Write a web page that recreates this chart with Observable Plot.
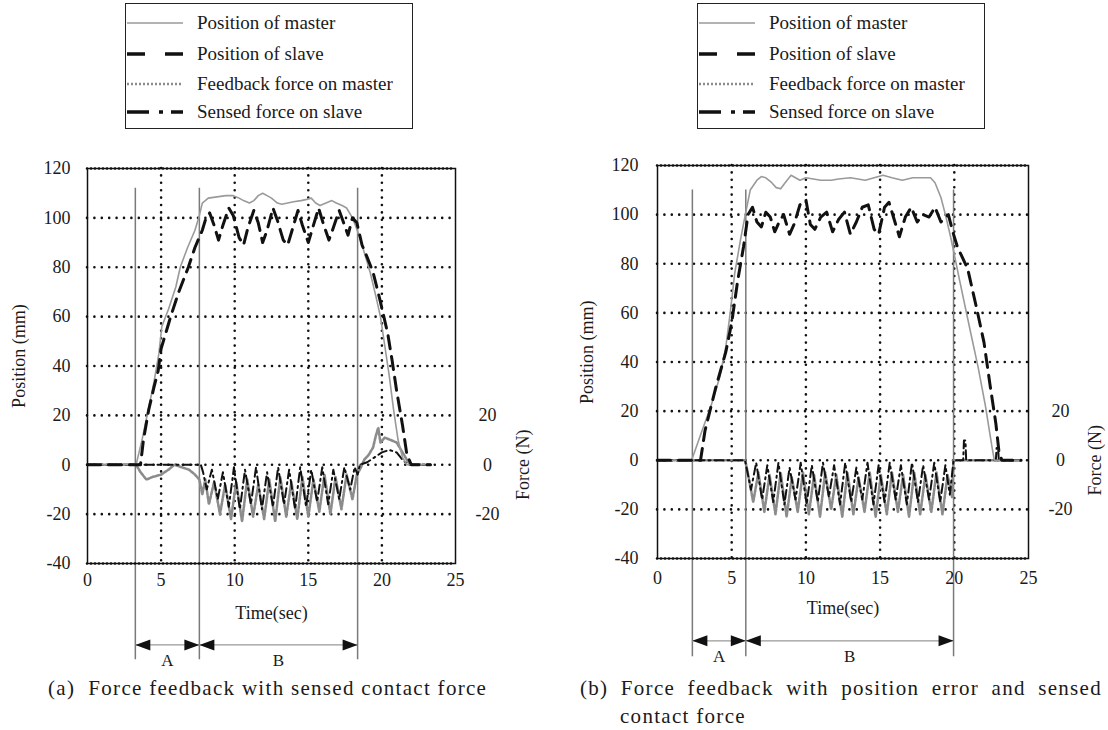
<!DOCTYPE html>
<html><head><meta charset="utf-8">
<script src="https://cdn.jsdelivr.net/npm/d3@7"></script>
<script src="https://cdn.jsdelivr.net/npm/@observablehq/plot@0.6"></script>
<style>
body{margin:0;background:#fff;width:1108px;height:730px;position:relative;overflow:hidden;font-family:"Liberation Serif","Times New Roman",Times,"DejaVu Serif",serif;color:#1a1a1a}
.legend{position:absolute;border:1.6px solid #222;background:#fff;box-sizing:border-box}
.row{position:absolute;left:0;height:26px;font-size:19px;white-space:nowrap}
.row svg{position:absolute;left:1px;top:7px}
.row span{position:absolute;top:0;line-height:26px}
.cap{position:absolute;font-size:21px;letter-spacing:1.3px;white-space:nowrap;line-height:24px}
.panel{position:absolute;top:140px}
</style></head><body>
<div id="legA" class="legend" style="left:125px;top:3px;width:288px;height:126px"></div>
<div id="legB" class="legend" style="left:697px;top:3px;width:288px;height:126px"></div>
<div id="panA" class="panel" style="left:0px"></div>
<div id="panB" class="panel" style="left:560px"></div>
<div class="cap" style="left:48px;top:676px">(a)&nbsp; Force feedback with sensed contact force</div>
<div class="cap" style="left:580px;top:676px;width:522px;text-align:justify;text-align-last:justify">(b) Force feedback with position error and sensed</div>
<div class="cap" style="left:620px;top:704px">contact force</div>
<script>
// ---- data ----
const legendLabels = ["Position of master", "Position of slave", "Feedback force on master", "Sensed force on slave"];
const xTicks = [0, 5, 10, 15, 20, 25];
const yTicks = [-40, -20, 0, 20, 40, 60, 80, 100, 120];
const forceTicks = [-20, 0, 20];
const xGrid = [5, 10, 15, 20];
const yGrid = [-20, 0, 20, 40, 60, 80, 100];
const phaseNames = ["A", "B"];
const phasesA = [3.25, 7.6, 18.35];
const phasesB = [2.35, 5.95, 19.95];

const masterA = [[0,0],[3.3,0],[3.7,10],[4.05,20],[4.5,33],[4.85,45],[5.05,56],[5.5,63],[6.0,72],[6.3,80],[6.8,88],[7.3,95],[7.6,101],[7.8,106],[8.2,108],[8.8,108.5],[9.4,109],[9.9,109],[10.3,108],[10.6,107],[11.0,106],[11.3,107],[11.6,109],[11.9,110],[12.2,109],[12.5,108],[12.9,106],[13.2,105.5],[13.6,106],[14.0,106.5],[14.5,107],[14.9,107.5],[15.2,108],[15.5,106],[15.8,105],[16.2,106],[16.6,107],[16.9,106],[17.3,105],[17.6,104],[17.9,101],[18.2,97],[18.5,92],[18.9,84],[19.2,78],[19.6,68],[19.9,60],[20.2,48],[20.5,36],[20.8,22],[21.1,10],[21.4,3],[21.7,0],[23.3,0]];
const slaveA = [[0,0],[3.6,0],[3.8,10],[4.15,22],[4.5,31],[4.8,38],[5.0,47],[5.3,53],[5.65,60],[6.2,70],[6.85,80],[7.3,88],[7.8,95],[8.0,99],[8.3,102],[8.6,97],[8.9,91],[9.2,97],[9.6,104],[9.9,101],[10.3,92],[10.6,89],[10.9,96],[11.3,103],[11.6,98],[11.9,90],[12.2,95],[12.6,104],[12.9,99],[13.3,91],[13.6,89],[13.9,95],[14.3,103],[14.6,97],[15.0,90],[15.3,96],[15.7,104],[16.0,98],[16.4,91],[16.7,96],[17.1,103],[17.4,98],[17.7,93],[18.0,100],[18.3,98],[18.65,89],[19.0,84],[19.4,78],[19.9,66],[20.4,53],[20.7,42],[21.0,30],[21.4,16],[21.7,4],[22.0,0],[23.3,0]];
const feedbackA = [[0,0],[3.3,0],[3.6,-3],[4.0,-6],[4.4,-5],[5.0,-4],[5.5,-2],[5.9,0],[6.4,-1],[6.9,-2],[7.3,-4],[7.6,-6],[7.8,-12],[8.0,-6],[8.25,-16],[8.6,-7],[9.0,-20],[9.35,-8],[9.75,-22],[10.1,-7],[10.5,-23],[10.85,-6],[11.25,-21],[11.6,-8],[12.0,-22],[12.35,-6],[12.75,-23],[13.1,-5],[13.5,-21],[13.85,-7],[14.25,-22],[14.6,-5],[15.0,-21],[15.35,-6],[15.75,-19],[16.1,-4],[16.5,-20],[16.85,-5],[17.25,-18],[17.6,-4],[18.0,-14],[18.3,-4],[18.5,-2],[18.8,2],[19.1,4],[19.4,7],[19.6,12],[19.75,15],[19.9,9],[20.2,11],[20.6,10],[21.0,9],[21.3,6],[21.6,3],[21.9,0],[23.3,0]];
const sensedA = [[0,0],[7.7,0],[7.85,-3],[8.1,-10],[8.45,-2],[8.85,-14],[9.2,-3],[9.6,-17],[9.95,-1],[10.35,-18],[10.7,-2],[11.1,-16],[11.45,-1],[11.85,-18],[12.2,-3],[12.6,-17],[12.95,-1],[13.35,-16],[13.7,-2],[14.1,-18],[14.45,-1],[14.85,-17],[15.2,-2],[15.6,-15],[15.95,-1],[16.35,-16],[16.7,-2],[17.1,-14],[17.45,-1],[17.85,-10],[18.15,-1],[18.35,-4],[18.5,0],[19.0,1],[19.5,3],[20.0,5],[20.5,6],[21.0,5],[21.4,2],[21.8,0],[23.3,0]];

const masterB = [[0,0],[2.3,0],[3.0,12],[3.6,22],[4.2,34],[4.6,46],[4.9,60],[5.2,76],[5.6,90],[5.95,101],[6.25,110],[6.7,114],[7.0,115.5],[7.3,115],[7.7,113],[8.0,111],[8.3,110.5],[8.6,113],[9.0,116],[9.3,115],[9.6,114],[10.0,115],[10.5,114.5],[11.0,114],[11.7,114],[12.2,114.5],[13.0,115],[13.5,114.5],[14.0,114],[14.6,115],[15.2,116],[15.8,115],[16.5,114],[17.2,115],[17.8,115],[18.4,115],[18.7,113],[19.1,107],[19.4,100],[19.75,91],[20.4,72],[21.1,52],[21.6,38],[22.1,22],[22.55,5],[22.7,0],[24.5,0]];
const slaveB = [[0,0],[2.9,0],[3.2,12],[3.9,29],[4.6,44],[5.0,56],[5.4,73],[5.8,87],[6.1,100],[6.4,103],[6.7,97],[7.0,95],[7.3,101],[7.6,99],[7.9,93],[8.2,97],[8.5,100],[8.9,92],[9.2,96],[9.6,104],[10.0,106],[10.3,96],[10.6,94],[11.0,99],[11.4,101],[11.8,93],[12.2,98],[12.6,101],[13.0,92],[13.4,97],[13.8,103],[14.2,104],[14.6,94],[14.9,92],[15.3,103],[15.6,105],[16.0,97],[16.3,91],[16.7,99],[17.1,103],[17.5,97],[17.9,100],[18.3,99],[18.7,103],[19.1,97],[19.6,100],[19.9,93],[20.2,87],[20.9,78],[21.5,62],[22.0,48],[22.4,31],[22.8,15],[23.0,4],[23.2,0],[24.5,0]];
const feedbackB = [[0,0],[5.9,0],[6.05,-4],[6.45,-17],[6.8,-5],[7.2,-21],[7.55,-6],[7.95,-22],[8.3,-5],[8.7,-23],[9.05,-7],[9.45,-21],[9.8,-5],[10.2,-22],[10.55,-6],[10.95,-23],[11.3,-5],[11.7,-20],[12.05,-6],[12.45,-23],[12.8,-5],[13.2,-22],[13.55,-7],[13.95,-21],[14.3,-5],[14.7,-23],[15.05,-6],[15.45,-22],[15.8,-5],[16.2,-21],[16.55,-6],[16.95,-23],[17.3,-5],[17.7,-22],[18.05,-6],[18.45,-21],[18.8,-5],[19.2,-22],[19.55,-6],[19.85,-15],[19.95,0],[24.5,0]];
const sensedB = [[0,0],[5.9,0],[6.3,-12],[6.65,-1],[7.05,-16],[7.4,-2],[7.8,-17],[8.15,-1],[8.55,-18],[8.9,-3],[9.3,-16],[9.65,-1],[10.05,-18],[10.4,-2],[10.8,-17],[11.15,-1],[11.55,-15],[11.9,-2],[12.3,-18],[12.65,-1],[13.05,-17],[13.4,-3],[13.8,-16],[14.15,-1],[14.55,-18],[14.9,-2],[15.3,-17],[15.65,-1],[16.05,-16],[16.4,-2],[16.8,-18],[17.15,-1],[17.55,-17],[17.9,-2],[18.3,-16],[18.65,-1],[19.05,-17],[19.4,-2],[19.7,-14],[19.95,0],[20.6,0],[20.65,8],[20.75,8],[20.8,0],[22.8,0],[22.85,5],[22.95,5],[23.0,0],[24.5,0]];

// ---- styles ----
const FONT = "'Liberation Serif', 'Times New Roman', Times, 'DejaVu Serif', serif";
const styles = [
  {stroke: "#9a9a9a", strokeWidth: 1.6},
  {stroke: "#111", strokeWidth: 3, strokeDasharray: "13,8"},
  {stroke: "#8c8c8c", strokeWidth: 2.6, strokeDasharray: "3,1.5"},
  {stroke: "#111", strokeWidth: 2, strokeDasharray: "9,4,2,4"}
];
const legendDash = [null, "18,20", "2,2", "22,10,4,8,12,100"];
const legendWidth = [1.6, 3.5, 2.5, 3.5];

function buildLegend(id) {
  const box = document.getElementById(id);
  const rowTops = [6, 37, 67, 95];
  legendLabels.forEach((lab, i) => {
    const row = document.createElement("div");
    row.className = "row";
    row.style.top = rowTops[i] + "px";
    const ns = "http://www.w3.org/2000/svg";
    const svg = document.createElementNS(ns, "svg");
    svg.setAttribute("width", 60); svg.setAttribute("height", 12);
    const ln = document.createElementNS(ns, "line");
    ln.setAttribute("x1", 0); ln.setAttribute("x2", 56);
    ln.setAttribute("y1", 6); ln.setAttribute("y2", 6);
    ln.setAttribute("stroke", styles[i].stroke);
    ln.setAttribute("stroke-width", legendWidth[i]);
    if (legendDash[i]) ln.setAttribute("stroke-dasharray", legendDash[i]);
    svg.appendChild(ln);
    row.appendChild(svg);
    const sp = document.createElement("span");
    sp.style.left = "71px";
    sp.textContent = lab;
    row.appendChild(sp);
    box.appendChild(row);
  });
}
buildLegend("legA");
buildLegend("legB");

const headRight = {draw(ctx) { ctx.moveTo(0, 0); ctx.lineTo(-15, -5.5); ctx.lineTo(-15, 5.5); ctx.closePath(); }};
const headLeft = {draw(ctx) { ctx.moveTo(0, 0); ctx.lineTo(15, -5.5); ctx.lineTo(15, 5.5); ctx.closePath(); }};

function panel(o) {
  const series = [o.master, o.slave, o.feedback, o.sensed];
  const segs = [[o.phases[0], o.phases[1], phaseNames[0]], [o.phases[1], o.phases[2], phaseNames[1]]];
  const lineOf = (i) => Plot.line(series[i], {x: d => d[0], y: d => d[1], ...styles[i], strokeLinejoin: "round"});
  return Plot.plot({
    width: o.width, height: 532,
    marginLeft: o.ml, marginRight: o.mr, marginTop: o.mt, marginBottom: 532 - o.mt - o.ph,
    x: {domain: [0, 25]},
    y: {domain: [-40, 120]},
    style: {fontFamily: FONT, fontSize: "18px", background: "transparent", color: "#1a1a1a"},
    marks: [
      Plot.ruleX(xGrid, {x: d => d, stroke: "#111", strokeWidth: 2.6, strokeDasharray: "0,7.4", strokeLinecap: "round"}),
      Plot.ruleY(yGrid, {y: d => d, stroke: "#111", strokeWidth: 2.6, strokeDasharray: "0,7.4", strokeLinecap: "round"}),
      Plot.ruleX(o.phases, {x: d => d, y1: o.lineBottom, y2: o.lineTop, stroke: "#7a7a7a", strokeWidth: 1.5}),
      lineOf(2), lineOf(3), lineOf(0), lineOf(1),
      Plot.ruleY([-40, 120], {y: d => d, stroke: "#111", strokeWidth: 2.6, strokeDasharray: "0,4", strokeLinecap: "round"}),
      Plot.frame({stroke: "#111", strokeWidth: 1.5}),
      Plot.ruleY(segs, {x1: d => d[0], x2: d => d[1], y: o.arrowY, stroke: "#999", strokeWidth: 1.2}),
      Plot.dot(segs, {x: d => d[0], y: o.arrowY, symbol: headLeft, fill: "#111", stroke: "none"}),
      Plot.dot(segs, {x: d => d[1], y: o.arrowY, symbol: headRight, fill: "#111", stroke: "none"}),
      Plot.text(segs, {x: d => (d[0] + d[1]) / 2, y: o.arrowY, dy: 16, text: d => d[2], fontSize: 17}),
      Plot.axisX(xTicks, {anchor: "bottom", tickSize: 0, tickPadding: o.xPad, tickFormat: d => String(d), label: null}),
      Plot.axisY(yTicks, {anchor: "left", tickSize: 0, tickPadding: o.yPad, tickFormat: d => String(d), label: null}),
      Plot.text(forceTicks, {x: 25, y: d => d, dx: 32, text: d => String(d)}),
      Plot.text(["Time(sec)"], {x: 12.5, y: -40, dy: 50, text: d => d}),
      Plot.text(["Position (mm)"], {x: 0, y: 44, dx: o.posDx, rotate: -90, text: d => d, fontSize: 18}),
      Plot.text(["Force (N)"], {x: 25, y: 0, dx: o.forceDx, rotate: -90, text: d => d, fontSize: 18})
    ]
  });
}

document.getElementById("panA").appendChild(panel({
  master: masterA, slave: slaveA, feedback: feedbackA, sensed: sensedA, phases: phasesA,
  width: 560, ml: 87, mr: 105, mt: 28, ph: 395,
  lineTop: 112, lineBottom: -79, arrowY: -73, xPad: 10, yPad: 17, posDx: -68, forceDx: 68
}));
document.getElementById("panB").appendChild(panel({
  master: masterB, slave: slaveB, feedback: feedbackB, sensed: sensedB, phases: phasesB,
  width: 548, ml: 97, mr: 80, mt: 25, ph: 393,
  lineTop: 110, lineBottom: -80, arrowY: -73.5, xPad: 13, yPad: 19, posDx: -70, forceDx: 67
}));
</script>
</body></html>
